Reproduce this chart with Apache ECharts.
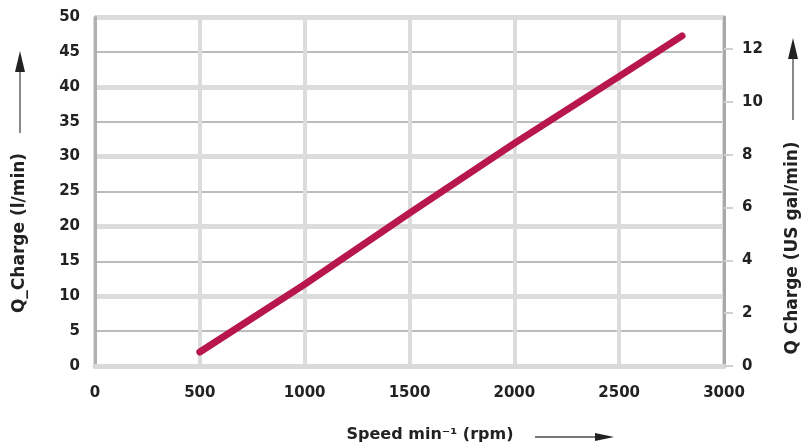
<!DOCTYPE html>
<html><head><meta charset="utf-8">
<script src="https://cdn.jsdelivr.net/npm/echarts@6/dist/echarts.min.js"></script>
<style>html,body{margin:0;padding:0;background:#fff}#c{width:804px;height:445px}</style>
</head><body><div id="c"></div>
<script>
const speedRpm = [500, 1000, 1500, 2000, 2500, 2800];
const qChargeLpm = [2.0, 11.7, 21.9, 31.9, 41.5, 47.3];
const xTicks = [0, 500, 1000, 1500, 2000, 2500, 3000];
const leftTicks = [0, 5, 10, 15, 20, 25, 30, 35, 40, 45, 50];
const rightTicks = [0, 2, 4, 6, 8, 10, 12];
const LPM_PER_GAL = 3.785;

const font = 'DejaVu Sans';
const chart = echarts.init(document.getElementById('c'));
chart.setOption({
  animation: false,
  grid: {left: 95, right: 80, top: 17, bottom: 79},
  xAxis: {
    type: 'value', min: xTicks[0], max: xTicks[xTicks.length-1], interval: 500,
    axisLine: {show: true, lineStyle: {color: '#dadada', width: 5}},
    axisTick: {show: false},
    axisLabel: {margin: 20, color: '#222', fontSize: 15, fontFamily: font, fontWeight: 'bold',
      formatter: v => String(v)},
    splitLine: {show: true, lineStyle: {color: '#dcdcdc', width: 4}}
  },
  yAxis: [
    {
      type: 'value', min: leftTicks[0], max: leftTicks[leftTicks.length-1], interval: 5,
      position: 'left',
      axisLine: {show: true, lineStyle: {color: '#b0b0b0', width: 3}},
      axisTick: {show: false},
      axisLabel: {margin: 15, color: '#222', fontSize: 15, fontFamily: font, fontWeight: 'bold'},
      splitLine: {show: true, lineStyle: {color: ['#dcdcdc', '#bcbcbc'], width: 2}}
    },
    {
      type: 'value', min: 0, max: 50 / LPM_PER_GAL,
      position: 'right',
      axisLine: {show: true, lineStyle: {color: '#a8a8a8', width: 3}},
      axisTick: {show: true, length: 9, customValues: rightTicks, lineStyle: {color: '#d0d0d0', width: 2}},
      axisLabel: {margin: 18, color: '#222', fontSize: 15, fontFamily: font, fontWeight: 'bold',
        customValues: rightTicks},
      splitLine: {show: false}
    },
    {
      type: 'value', min: 0, max: 50, interval: 10, position: 'left',
      axisLine: {show: false}, axisTick: {show: false}, axisLabel: {show: false},
      splitLine: {show: true, lineStyle: {color: '#dcdcdc', width: 5}}
    }
  ],
  series: [{
    type: 'line', yAxisIndex: 0, showSymbol: false, symbol: 'none',
    data: speedRpm.map((s, i) => [s, qChargeLpm[i]]),
    lineStyle: {color: '#b8174d', width: 7, cap: 'round'},
    z: 5
  }],
  graphic: [
    {type: 'text', x: 430, y: 435, style: {text: 'Speed min⁻¹ (rpm)', font: 'bold 16px "DejaVu Sans"', fill: '#222', textAlign: 'center', textVerticalAlign: 'middle'}},
    {type: 'line', shape: {x1: 535, y1: 437, x2: 600, y2: 437}, style: {stroke: '#777', lineWidth: 2}},
    {type: 'polygon', shape: {points: [[595, 433], [614, 437], [595, 441]]}, style: {fill: '#222'}},
    {type: 'text', x: 20, y: 233, rotation: Math.PI / 2, style: {text: 'Q_Charge (l/min)', font: 'bold 17px "DejaVu Sans"', fill: '#222', textAlign: 'center', textVerticalAlign: 'middle'}},
    {type: 'line', shape: {x1: 20, y1: 133, x2: 20, y2: 65}, style: {stroke: '#888', lineWidth: 2}},
    {type: 'polygon', shape: {points: [[15, 72], [20, 51], [25, 72]]}, style: {fill: '#222'}},
    {type: 'text', x: 793, y: 248, rotation: Math.PI / 2, style: {text: 'Q Charge (US gal/min)', font: 'bold 17px "DejaVu Sans"', fill: '#222', textAlign: 'center', textVerticalAlign: 'middle'}},
    {type: 'line', shape: {x1: 793, y1: 120, x2: 793, y2: 52}, style: {stroke: '#888', lineWidth: 2}},
    {type: 'polygon', shape: {points: [[788, 59], [793, 38], [798, 59]]}, style: {fill: '#222'}}
  ]
});
</script></body></html>
